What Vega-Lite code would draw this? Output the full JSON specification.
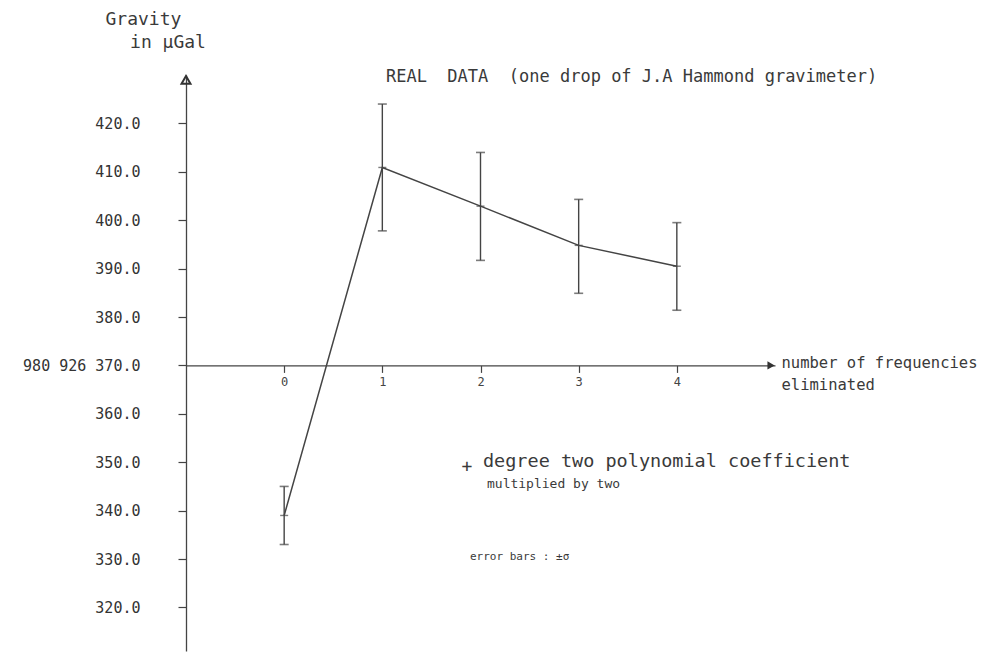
{
  "$schema": "https://vega.github.io/schema/vega-lite/v6.json",
  "width": 589,
  "height": 576,
  "autosize": "none",
  "padding": {"left": 186, "top": 75, "right": 209, "bottom": 3},
  "background": "white",
  "config": {"view": {"stroke": null}, "font": "DejaVu Sans Mono"},
  "data": {
    "values": [
      {"n": 0, "g": 339.0, "lo": 333.0, "hi": 345.0},
      {"n": 1, "g": 410.9, "lo": 397.8, "hi": 424.0},
      {"n": 2, "g": 402.9, "lo": 391.7, "hi": 414.0},
      {"n": 3, "g": 394.8, "lo": 384.9, "hi": 404.3},
      {"n": 4, "g": 390.5, "lo": 381.4, "hi": 399.5}
    ]
  },
  "layer": [
    {
      "mark": {"type": "line", "color": "#444", "strokeWidth": 1.5},
      "encoding": {
        "x": {
          "field": "n", "type": "quantitative",
          "scale": {"domain": [-1, 5], "nice": false, "zero": false},
          "axis": {
            "orient": "bottom", "offset": -285.6, "values": [0, 1, 2, 3, 4], "format": "d",
            "grid": false, "domainColor": "#444", "domainWidth": 1.3,
            "tickColor": "#444", "tickSize": 7, "tickWidth": 1.2,
            "labelFontSize": 12, "labelColor": "#444", "labelPadding": 4,
            "title": ["number of frequencies", "eliminated"],
            "titleX": 595, "titleY": -10, "titleAlign": "left", "titleBaseline": "top",
            "titleAngle": 0, "titleFontSize": 15.5, "titleFontWeight": "normal",
            "titleColor": "#3a3a3a", "titleLineHeight": 22
          }
        },
        "y": {
          "field": "g", "type": "quantitative",
          "scale": {"domain": [311, 430], "nice": false, "zero": false},
          "axis": {
            "values": [320, 330, 340, 350, 360, 370, 380, 390, 400, 410, 420],
            "grid": false, "domainColor": "#444", "domainWidth": 1.3,
            "tickColor": "#444", "tickSize": 8, "tickWidth": 1.2,
            "labelFontSize": 15, "labelColor": "#333", "labelPadding": 38,
            "labelExpr": "datum.value == 370 ? '980 926 370.0' : format(datum.value, '.1f')",
            "title": "Gravity",
            "titleX": -81, "titleY": -65, "titleAlign": "left", "titleBaseline": "top",
            "titleAngle": 0, "titleFontSize": 18, "titleFontWeight": "normal",
            "titleColor": "#3a3a3a"
          }
        }
      }
    },
    {
      "mark": {"type": "rule", "color": "#444", "strokeWidth": 1.4},
      "encoding": {
        "x": {"field": "n", "type": "quantitative"},
        "y": {"field": "lo", "type": "quantitative"},
        "y2": {"field": "hi"}
      }
    },
    {
      "mark": {"type": "tick", "orient": "horizontal", "size": 9, "thickness": 1.6, "color": "#444"},
      "encoding": {
        "x": {"field": "n", "type": "quantitative"},
        "y": {"field": "lo", "type": "quantitative"}
      }
    },
    {
      "mark": {"type": "tick", "orient": "horizontal", "size": 9, "thickness": 1.6, "color": "#444"},
      "encoding": {
        "x": {"field": "n", "type": "quantitative"},
        "y": {"field": "hi", "type": "quantitative"}
      }
    },
    {
      "mark": {"type": "tick", "orient": "horizontal", "size": 8, "thickness": 1.4, "color": "#444"},
      "encoding": {
        "x": {"field": "n", "type": "quantitative"},
        "y": {"field": "g", "type": "quantitative"}
      }
    },
    {
      "data": {"values": [{}]},
      "mark": {"type": "point", "shape": "triangle-right", "filled": true, "size": 70, "color": "#333", "opacity": 1},
      "encoding": {
        "x": {"datum": 4.96, "type": "quantitative"},
        "y": {"datum": 370, "type": "quantitative"}
      }
    },
    {
      "data": {"values": [{}]},
      "mark": {"type": "point", "shape": "triangle-up", "filled": false, "strokeWidth": 2, "size": 80, "color": "#333", "opacity": 1},
      "encoding": {
        "x": {"datum": -1, "type": "quantitative"},
        "y": {"datum": 429, "type": "quantitative"}
      }
    },
    {
      "data": {"values": [{}]},
      "mark": {"type": "text", "text": "in \u03bcGal", "fontSize": 18, "color": "#3a3a3a", "align": "left", "baseline": "middle"},
      "encoding": {
        "x": {"datum": -1.57, "type": "quantitative"},
        "y": {"datum": 436.7, "type": "quantitative"}
      }
    },
    {
      "data": {"values": [{}]},
      "mark": {"type": "text", "text": "REAL\u00a0 DATA\u00a0 (one drop of J.A Hammond gravimeter)", "fontSize": 17, "color": "#3a3a3a", "align": "left", "baseline": "middle"},
      "encoding": {
        "x": {"datum": 1.037, "type": "quantitative"},
        "y": {"datum": 429.6, "type": "quantitative"}
      }
    },
    {
      "data": {"values": [{}]},
      "mark": {"type": "text", "text": "+", "fontSize": 18, "color": "#3a3a3a", "align": "center", "baseline": "middle"},
      "encoding": {
        "x": {"datum": 1.862, "type": "quantitative"},
        "y": {"datum": 349.1, "type": "quantitative"}
      }
    },
    {
      "data": {"values": [{}]},
      "mark": {"type": "text", "text": "degree two polynomial coefficient", "fontSize": 18.5, "color": "#3a3a3a", "align": "left", "baseline": "middle"},
      "encoding": {
        "x": {"datum": 2.025, "type": "quantitative"},
        "y": {"datum": 350.2, "type": "quantitative"}
      }
    },
    {
      "data": {"values": [{}]},
      "mark": {"type": "text", "text": "multiplied by two", "fontSize": 13, "color": "#3a3a3a", "align": "left", "baseline": "middle"},
      "encoding": {
        "x": {"datum": 2.066, "type": "quantitative"},
        "y": {"datum": 345.4, "type": "quantitative"}
      }
    },
    {
      "data": {"values": [{}]},
      "mark": {"type": "text", "text": "error bars : \u00b1\u03c3", "fontSize": 11, "color": "#3a3a3a", "align": "left", "baseline": "middle"},
      "encoding": {
        "x": {"datum": 1.893, "type": "quantitative"},
        "y": {"datum": 330.5, "type": "quantitative"}
      }
    }
  ]
}
